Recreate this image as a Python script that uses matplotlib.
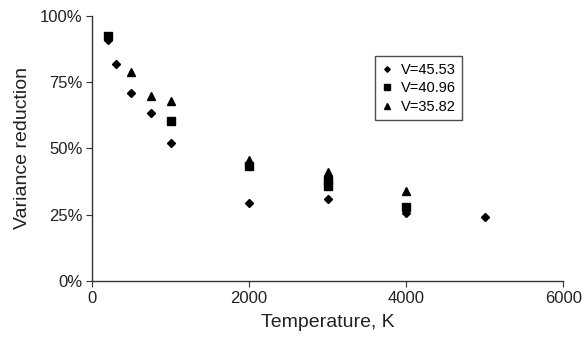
import matplotlib
matplotlib.use("Agg")
import matplotlib.pyplot as plt
from matplotlib.ticker import FuncFormatter

plt.rcParams['font.family'] = ['Liberation Sans', 'DejaVu Sans']

t1 = [200, 300, 500, 750, 1000, 2000, 3000, 4000, 5000]
v1 = [91, 82, 71, 63.5, 52, 29.5, 31, 25.5, 24.2]
t2 = [200, 1000, 2000, 3000, 3000, 4000]
v2 = [92.5, 60.5, 43.5, 36, 38, 28]
t3 = [500, 750, 1000, 2000, 3000, 4000]
v3 = [79, 70, 68, 45.5, 41, 34]
labels = ["V=45.53", "V=40.96", "V=35.82"]

fig = plt.figure(figsize=(5.83, 3.49), dpi=100)
ax = fig.add_axes([0.158, 0.195, 0.808, 0.759])
ax.plot(t1, v1, linestyle='none', marker='D', ms=4, color='black', label=labels[0])
ax.plot(t2, v2, linestyle='none', marker='s', ms=5.5, color='black', label=labels[1])
ax.plot(t3, v3, linestyle='none', marker='^', ms=5.5, color='black', label=labels[2])

ax.set_xlim(0, 6000)
ax.set_ylim(0, 100)
ax.set_xticks([0, 2000, 4000, 6000])
ax.set_yticks([0, 25, 50, 75, 100])
ax.yaxis.set_major_formatter(FuncFormatter(lambda v, p: f"{int(v)}%"))
ax.spines['top'].set_visible(False)
ax.spines['right'].set_visible(False)
for s in ['left', 'bottom']:
    ax.spines[s].set_color('#333333')
    ax.spines[s].set_linewidth(1.0)
ax.tick_params(labelsize=12, length=4, colors='#333333', labelcolor='#222222', pad=3)
ax.set_xlabel("Temperature, K", fontsize=14, color='#222222', labelpad=6)
ax.set_ylabel("Variance reduction", fontsize=14, color='#222222', labelpad=6)

leg = ax.legend(loc='upper left', bbox_to_anchor=(0.585, 0.875), fontsize=10.5,
                frameon=True, fancybox=False, edgecolor='#222222', handlelength=0.7,
                handletextpad=0.6, borderpad=0.45, labelspacing=0.3, markerscale=0.7)
leg.get_frame().set_linewidth(1.0)

fig.savefig("out.png", dpi=100)
